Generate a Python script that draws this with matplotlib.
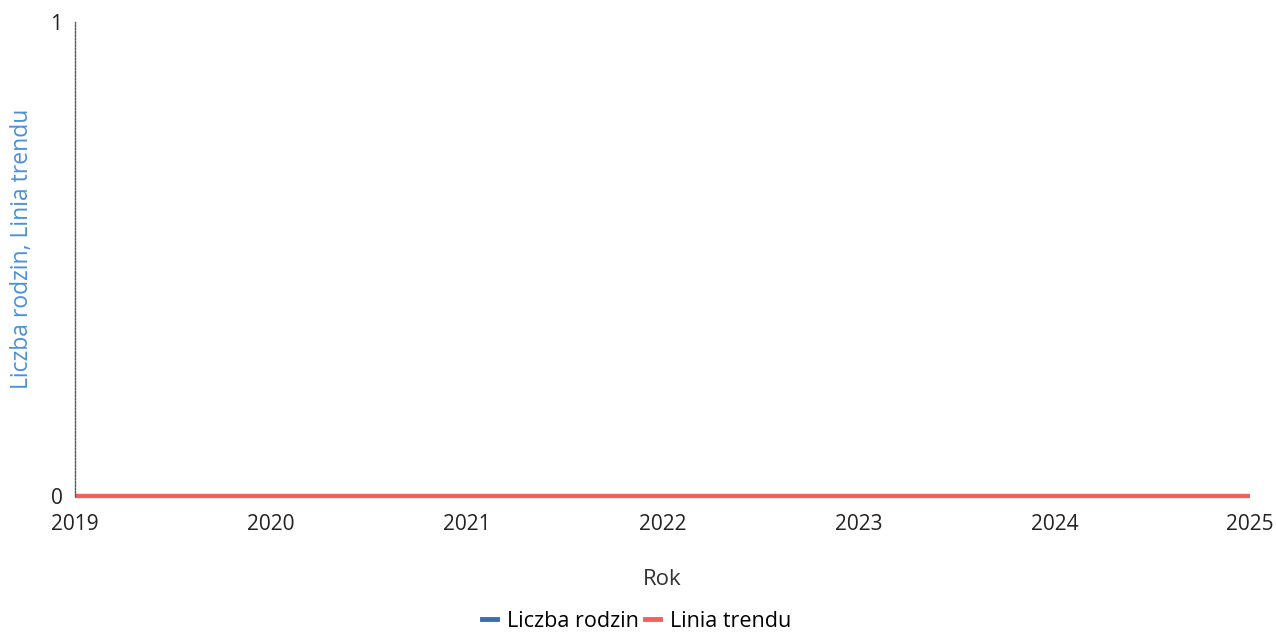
import matplotlib
matplotlib.use("Agg")
import matplotlib.pyplot as plt
from matplotlib.lines import Line2D

years = [2019, 2020, 2021, 2022, 2023, 2024, 2025]
liczba_rodzin = [0, 0, 0, 0, 0, 0, 0]
linia_trendu = [0, 0, 0, 0, 0, 0, 0]
y_ticks = [0, 1]

plt.rcParams['font.family'] = ['Open Sans', 'DejaVu Sans']

fig = plt.figure(figsize=(12.76, 6.37), dpi=100)
ax = fig.add_axes([0.0588, 0.222, 0.921, 0.743])

blue = '#3a6db5'
red = '#f0605c'
ax.plot(years, liczba_rodzin, color=blue, lw=3, solid_capstyle='butt', clip_on=False)
ax.plot(years, linia_trendu, color=red, lw=3, solid_capstyle='butt', clip_on=False)

ax.set_xlim(years[0], years[-1])
ax.set_ylim(0, 1)
ax.set_xticks(years)
ax.set_xticklabels([str(y) for y in years], fontsize=15, color='#222222')
ax.set_yticks(y_ticks)
ax.set_yticklabels([str(v) for v in y_ticks], fontsize=15, color='#222222')
ax.tick_params(axis='both', length=0)
ax.tick_params(axis='x', pad=13)
ax.tick_params(axis='y', pad=9)

for s in ['top', 'right', 'bottom']:
    ax.spines[s].set_visible(False)
ax.spines['left'].set_linestyle((0, (1.2, 1.2)))
ax.spines['left'].set_color('#555555')
ax.spines['left'].set_linewidth(1.0)

ax.set_xlabel('Rok', fontsize=16, color='#333333', labelpad=25)
ax.set_ylabel('Liczba rodzin, Linia trendu', fontsize=16.5, color='#4a90d9')
ax.yaxis.set_label_coords(-0.035, 0.522)

handles = [Line2D([0], [0], color=blue, lw=3.5), Line2D([0], [0], color=red, lw=3.5)]
fig.legend(handles, ['Liczba rodzin', 'Linia trendu'], loc='center', bbox_to_anchor=(0.499, 0.025),
           ncol=2, frameon=False, fontsize=15.5, handlelength=0.7, handletextpad=0.45,
           columnspacing=0.3)

fig.savefig('out.png', dpi=100, facecolor='white')
